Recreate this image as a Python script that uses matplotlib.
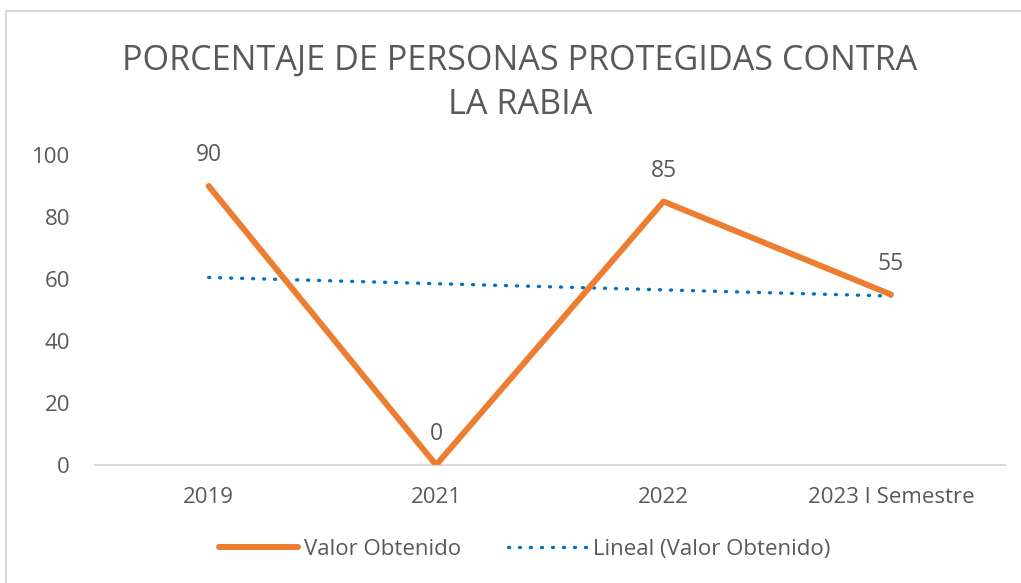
import matplotlib
matplotlib.use('Agg')
import matplotlib.pyplot as plt
from matplotlib.lines import Line2D
import numpy as np

plt.rcParams['font.family'] = ['Open Sans', 'DejaVu Sans']

categorias = ['2019', '2021', '2022', '2023 I Semestre']
valores = [90, 0, 85, 55]
titulo = 'PORCENTAJE DE PERSONAS PROTEGIDAS CONTRA\nLA RABIA'

gris = '#595959'
naranja = '#ED7D31'
azul = '#0070C0'

x = np.arange(len(categorias))
# linea de tendencia lineal (como en Excel)
m, b = np.polyfit(x, valores, 1)
tendencia = m * x + b

fig = plt.figure(figsize=(10.21, 5.83), dpi=100)
ax = fig.add_axes([0.093, 0.2024, 0.891, 0.5317])

ax.plot(x, valores, color=naranja, lw=4.3, solid_capstyle='round', label='Valor Obtenido', zorder=3)
ax.plot(x, tendencia, color=azul, lw=2.4, linestyle=(0, (0.3, 3.0)), dash_capstyle='round',
        label='Lineal (Valor Obtenido)', zorder=2)

for xi, v in zip(x, valores):
    ax.annotate(str(v), (xi, v), xytext=(0, 22), textcoords='offset points',
                ha='center', va='center', fontsize=16.5, color=gris)

ax.set_xlim(-0.5, len(categorias) - 0.5)
ax.set_ylim(0, 100)
ax.set_yticks(range(0, 101, 20))
ax.set_xticks(x)
ax.set_xticklabels(categorias)
ax.tick_params(axis='both', length=0, labelsize=16, labelcolor=gris)
ax.tick_params(axis='y', pad=18)
ax.tick_params(axis='x', pad=15.5)
for s in ['top', 'right', 'left']:
    ax.spines[s].set_visible(False)
ax.spines['bottom'].set_color('#D9D9D9')
ax.spines['bottom'].set_linewidth(1.5)

fig.text(0.509, 0.858, titulo, ha='center', va='center', fontsize=24.6,
         color=gris, linespacing=1.42)

leg = fig.legend(loc='center', bbox_to_anchor=(0.514, 0.057), ncol=2, frameon=False,
                 fontsize=16, handlelength=3.55, handletextpad=0.27, columnspacing=2.1)
for t in leg.get_texts():
    t.set_color(gris)

# borde del area del grafico
fig.add_artist(Line2D([0.006, 0.006], [0, 0.981], color='#D9D9D9', lw=1.5))
fig.add_artist(Line2D([0.006, 1], [0.981, 0.981], color='#D9D9D9', lw=1.5))

fig.savefig('out.png', dpi=100)
